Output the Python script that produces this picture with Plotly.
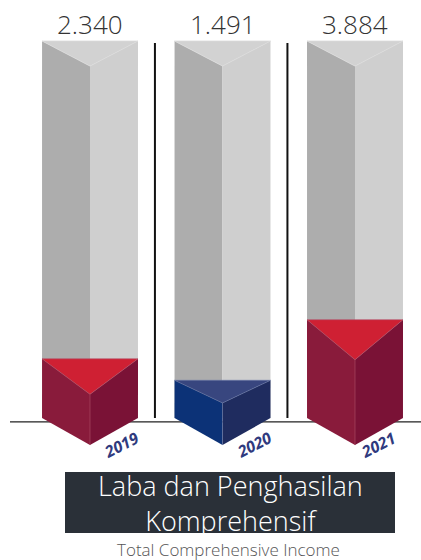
import plotly.graph_objects as go

# Data
years = ["2019", "2020", "2021"]
values = [2.340, 1.491, 3.884]
value_labels = ["2.340", "1.491", "3.884"]

# Scale / geometry (value units on y, category index on x)
GAUGE_MAX = 14.9          # height of the grey background prism
HALF_W = 0.362            # half width of each prism
BOTTOM_DEPTH = 1.07       # drop of the front bottom vertex
GREY_TOP_DEPTH = 0.99     # depth of the grey top face
TOP_DEPTH = 1.58          # max depth of the coloured top face

palettes = {
    "2019": dict(top="#CF2033", left="#891B3B", right="#7A1236", edge="#B0506A"),
    "2020": dict(top="#38467F", left="#0C3277", right="#1F2C5F", edge="#6A78A8"),
    "2021": dict(top="#CF2033", left="#891B3B", right="#7A1236", edge="#B0506A"),
}

LIGHT = dict(family="Open Sans", weight=300)

fig = go.Figure()


def poly(xs, ys, fill, line_color=None, width=0.0):
    fig.add_trace(go.Scatter(
        x=list(xs) + [xs[0]], y=list(ys) + [ys[0]],
        mode="lines", fill="toself", fillcolor=fill,
        line=dict(color=line_color or fill, width=width),
        hoverinfo="skip", showlegend=False,
    ))


for i, (yr, v) in enumerate(zip(years, values)):
    l, c, r = i - HALF_W, i, i + HALF_W
    # grey background prism
    g_top = GAUGE_MAX
    g_apex = GAUGE_MAX - GREY_TOP_DEPTH
    poly([l, c, c, l], [g_top, g_apex, 0, 0], "#ADADAD")
    poly([c, r, r, c], [g_apex, g_top, 0, 0], "#CFCFCF")
    poly([l, r, c], [g_top, g_top, g_apex], "#D2D2D2", "#DADADA", 0.8)

    # coloured value prism
    p = palettes[yr]
    depth = min(TOP_DEPTH, 0.6 * v)
    apex = v - depth
    poly([l, c, c, l], [v, apex, -BOTTOM_DEPTH, 0], p["left"])
    poly([c, r, r, c], [apex, v, 0, -BOTTOM_DEPTH], p["right"])
    fig.add_trace(go.Scatter(x=[c, c], y=[apex, -BOTTOM_DEPTH], mode="lines",
                             line=dict(color=p["edge"], width=0.6),
                             hoverinfo="skip", showlegend=False))
    poly([l, r, c], [v, v, apex], p["top"], p["edge"], 0.6)

    # value label above the prism
    fig.add_annotation(x=c, y=GAUGE_MAX, yshift=17, text=value_labels[i],
                       showarrow=False, xanchor="center", yanchor="middle",
                       font=dict(**LIGHT, size=26, color="#333333"))
    # rotated year label
    fig.add_annotation(x=c, y=0, xshift=31 if i < 2 else 23, yshift=-27,
                       text=f"<b><i>{yr}</i></b>", showarrow=False, textangle=-27,
                       xanchor="center", yanchor="middle",
                       font=dict(family="Open Sans", size=16, color="#2F3A7E"))

# separators between years
for sx in [0.49, 1.49]:
    fig.add_shape(type="line", x0=sx, x1=sx, y0=GAUGE_MAX - 0.08, y1=0.0,
                  line=dict(color="#111111", width=2), layer="above")

# baseline
fig.add_shape(type="line", xref="paper", x0=10 / 421, x1=1, y0=-0.15, y1=-0.15,
              line=dict(color="#222222", width=1.3), layer="below")

# title box
fig.add_shape(type="rect", xref="paper", yref="paper",
              x0=65 / 421, x1=395 / 421, y0=1 - 533 / 560, y1=1 - 472 / 560,
              fillcolor="#2A3038", line=dict(width=0), layer="above")
fig.add_annotation(xref="paper", yref="paper", x=230 / 421, y=1 - 502.5 / 560,
                   text="Laba dan Penghasilan<br>Komprehensif", showarrow=False,
                   align="center", xanchor="center", yanchor="middle",
                   font=dict(**LIGHT, size=27, color="#FFFFFF"))
fig.add_annotation(xref="paper", yref="paper", x=228 / 421, y=1 - 549 / 560,
                   text="Total Comprehensive Income", showarrow=False,
                   xanchor="center", yanchor="middle",
                   font=dict(**LIGHT, size=17, color="#555555"))

S = 25.3  # px per value unit
fig.update_layout(
    width=421, height=560,
    margin=dict(l=0, r=0, t=0, b=0),
    paper_bgcolor="#FFFFFF", plot_bgcolor="#FFFFFF",
    xaxis=dict(range=[-90 / 132.5, (421 - 90) / 132.5], visible=False, fixedrange=True),
    yaxis=dict(range=[-(560 - 418) / S, 418 / S], visible=False, fixedrange=True),
)

fig.write_html("out.html")
